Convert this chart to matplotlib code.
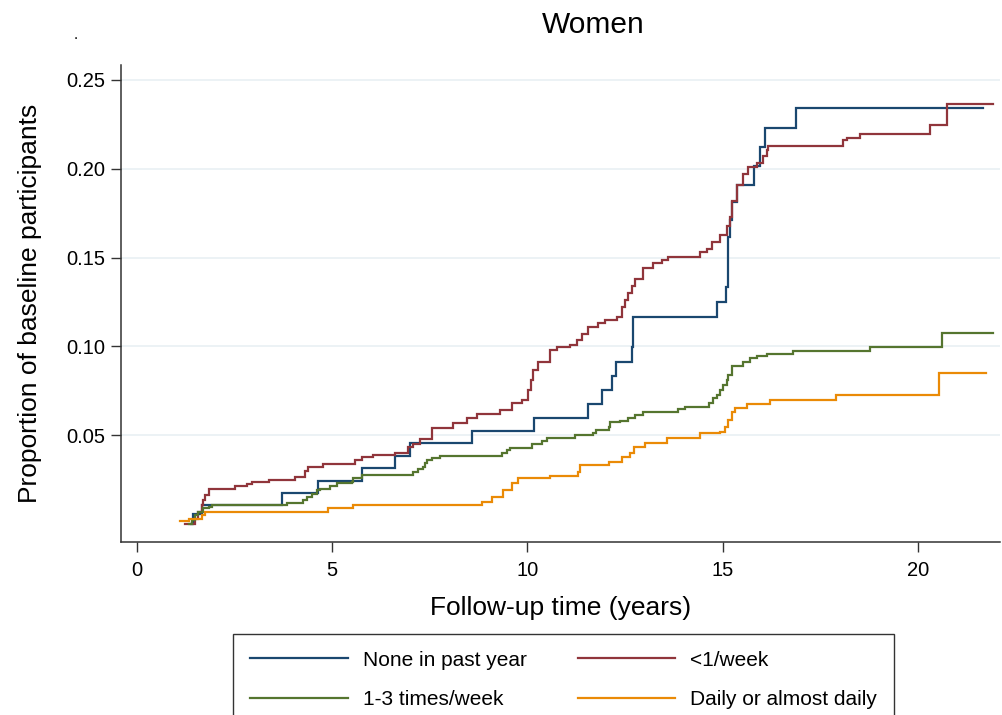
import matplotlib
matplotlib.use("Agg")
import matplotlib.pyplot as plt

plt.rcParams['font.family'] = ['Liberation Sans', 'DejaVu Sans']

# Cumulative incidence (step functions) by drinking frequency, women
labels = ["None in past year", "<1/week", "1-3 times/week", "Daily or almost daily"]
colors = ["#1a476f", "#90353b", "#55752f", "#ea8a06"]

none_t = [1.40, 1.45, 1.67, 3.72, 4.65, 5.76, 6.62, 7.00, 8.58, 10.18, 11.56, 11.91,
          12.16, 12.27, 12.67, 12.71, 14.85, 15.09, 15.13, 15.15, 15.19, 15.23, 15.36,
          15.81, 15.96, 16.09, 16.88]
none_y = [0.000, 0.0056, 0.0107, 0.0176, 0.0242, 0.0314, 0.0385, 0.0454, 0.0525, 0.0595,
          0.0676, 0.0755, 0.0833, 0.0914, 0.0998, 0.1164, 0.1252, 0.1336, 0.1450, 0.1618,
          0.1710, 0.1815, 0.1910, 0.2016, 0.2120, 0.2228, 0.2340]
none_end = 21.66

lt1_t = [1.24, 1.50, 1.58, 1.67, 1.71, 1.75, 1.84, 2.52, 2.82, 2.95, 3.39, 4.06, 4.31,
         4.39, 4.77, 5.59, 5.76, 6.05, 6.62, 6.95, 7.08, 7.26, 7.56, 8.10, 8.45, 8.71,
         9.30, 9.60, 9.86, 10.02, 10.10, 10.15, 10.28, 10.58, 10.75, 11.10, 11.27, 11.40,
         11.56, 11.82, 11.99, 12.29, 12.42, 12.50, 12.59, 12.68, 12.76, 12.97, 13.23,
         13.44, 13.61, 14.42, 14.59, 14.72, 14.93, 15.11, 15.19, 15.23, 15.36, 15.53,
         15.66, 15.87, 16.04, 16.13, 16.17, 18.09, 18.18, 18.52, 20.31, 20.74]
lt1_y = [0.000, 0.003, 0.007, 0.011, 0.0135, 0.0165, 0.020, 0.0214, 0.0225, 0.0238,
         0.025, 0.0266, 0.030, 0.032, 0.0336, 0.036, 0.038, 0.039, 0.040, 0.0435, 0.045,
         0.048, 0.054, 0.057, 0.0595, 0.062, 0.064, 0.068, 0.070, 0.0755, 0.081, 0.0867,
         0.0914, 0.098, 0.0995, 0.1008, 0.1036, 0.107, 0.111, 0.113, 0.115, 0.1167, 0.122,
         0.126, 0.130, 0.134, 0.138, 0.144, 0.147, 0.1487, 0.1505, 0.1533, 0.155, 0.159,
         0.1627, 0.168, 0.173, 0.182, 0.191, 0.197, 0.201, 0.203, 0.207, 0.2106, 0.213,
         0.216, 0.2175, 0.2196, 0.2247, 0.2365]
lt1_end = 21.91

wk13_t = [1.33, 1.41, 1.50, 1.58, 1.71, 1.84, 1.92, 3.84, 4.27, 4.36, 4.48, 4.61, 4.70,
          4.95, 5.12, 5.51, 5.55, 5.76, 7.08, 7.21, 7.34, 7.38, 7.43, 7.56, 7.77, 9.35,
          9.48, 9.56, 10.12, 10.37, 10.50, 11.22, 11.69, 11.76, 12.08, 12.12, 12.38, 12.59,
          12.76, 12.97, 13.87, 14.04, 14.64, 14.76, 14.85, 14.93, 15.02, 15.11, 15.15,
          15.23, 15.53, 15.70, 15.87, 16.13, 16.81, 18.76, 20.62]
wk13_y = [0.000, 0.0023, 0.005, 0.007, 0.0088, 0.0097, 0.0107, 0.0117, 0.0135, 0.0154,
          0.0167, 0.019, 0.020, 0.0214, 0.0229, 0.0238, 0.0257, 0.0276, 0.0294, 0.0308,
          0.0323, 0.0342, 0.036, 0.037, 0.0383, 0.0398, 0.0417, 0.043, 0.045, 0.0467,
          0.0482, 0.0501, 0.0514, 0.0529, 0.0548, 0.0576, 0.0582, 0.0595, 0.0614, 0.0629,
          0.0646, 0.066, 0.0683, 0.0708, 0.0726, 0.0754, 0.0783, 0.081, 0.0839, 0.089,
          0.0914, 0.0933, 0.0946, 0.0957, 0.0976, 0.0995, 0.1077]
wk13_end = 21.91

daily_t = [1.11, 1.33, 1.67, 1.75, 4.91, 5.55, 8.84, 9.09, 9.39, 9.60, 9.77, 10.58, 11.31,
           11.35, 12.08, 12.42, 12.63, 12.72, 13.02, 13.57, 14.42, 14.93, 15.06, 15.15,
           15.23, 15.32, 15.62, 16.21, 17.90, 20.55]
daily_y = [0.0017, 0.003, 0.005, 0.007, 0.0092, 0.011, 0.0126, 0.015, 0.019, 0.0229,
           0.0257, 0.027, 0.0294, 0.0332, 0.035, 0.0375, 0.040, 0.0435, 0.0458, 0.0482,
           0.051, 0.052, 0.0548, 0.0586, 0.0632, 0.0651, 0.0676, 0.070, 0.0726, 0.0849]
daily_end = 21.74

x_ticks = [0, 5, 10, 15, 20]
y_ticks = [0.05, 0.10, 0.15, 0.20, 0.25]
y_ticklabels = ["0.05", "0.10", "0.15", "0.20", "0.25"]

series = [(none_t, none_y, none_end), (lt1_t, lt1_y, lt1_end),
          (wk13_t, wk13_y, wk13_end), (daily_t, daily_y, daily_end)]

W, H = 1003, 715
fig = plt.figure(figsize=(W / 100, H / 100), dpi=100)
ax = fig.add_axes([121 / W, 1 - 542 / H, (1000 - 121) / W, (542 - 65) / H])

handles = []
for (t, y, end), lab, col in zip(series, labels, colors):
    tt = list(t) + [end]
    yy = list(y) + [y[-1]]
    h, = ax.step(tt, yy, where="post", color=col, lw=1.6, label=lab,
                 solid_joinstyle="miter")
    handles.append(h)

ax.set_xlim(-0.40, 22.1)
ax.set_ylim(-0.0101, 0.2584)
ax.set_xticks(x_ticks)
ax.set_yticks(y_ticks)
ax.set_yticklabels(y_ticklabels)
ax.grid(axis="y", color="#e9f0f3", lw=1.2)
ax.set_axisbelow(True)
for s in ("top", "right"):
    ax.spines[s].set_visible(False)
for s in ("left", "bottom"):
    ax.spines[s].set_color("#333333")
    ax.spines[s].set_linewidth(1.1)
ax.tick_params(axis="both", direction="out", length=7, width=1.0, color="#333333",
               labelsize=14.5, labelcolor="black")
ax.tick_params(axis="y", pad=4)
ax.tick_params(axis="x", pad=7)

ax.set_xlabel("Follow-up time (years)", fontsize=19, labelpad=11)
ax.set_ylabel("Proportion of baseline participants", fontsize=19, labelpad=18)

fig.text(593 / W, 1 - 25 / H, "Women", fontsize=21.5, ha="center", va="center")
fig.text(76 / W, 1 - 35 / H, ".", fontsize=11, ha="center", va="center")

# legend filled column-wise: rows read None / <1, then 1-3 / Daily
order = [0, 2, 1, 3]
leg = fig.legend(handles=[handles[i] for i in order],
                 labels=[labels[i] for i in order], ncol=2, loc="upper left",
                 bbox_to_anchor=(233 / W, 1 - 634 / H), borderaxespad=0,
                 fontsize=15, frameon=True, fancybox=False, edgecolor="black",
                 handlelength=4.7, handletextpad=0.72, columnspacing=2.45,
                 labelspacing=0.98, borderpad=0.8)
leg.get_frame().set_linewidth(1.0)

fig.savefig("out.png", dpi=100)
